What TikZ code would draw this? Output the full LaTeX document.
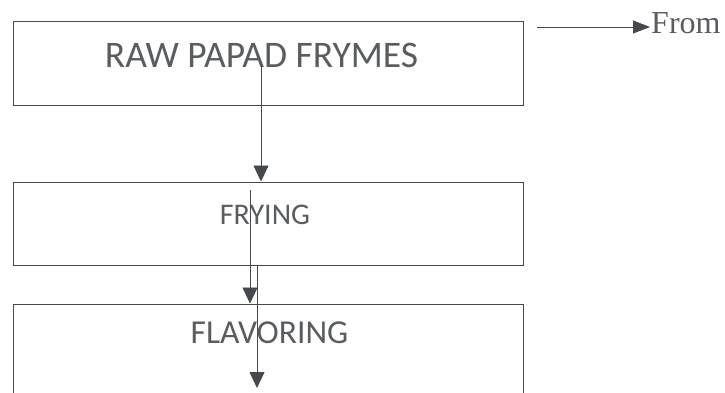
\documentclass[tikz,border=0pt]{standalone}
\usepackage{fontspec}
\setmainfont{Liberation Serif}
\newfontfamily\boxfont{Carlito}
\usetikzlibrary{arrows.meta}
\definecolor{inkgray}{HTML}{45484D}
\definecolor{txtgray}{HTML}{5A5D60}
\tikzset{
  stage/.style={draw=inkgray, line width=1pt, minimum width=510pt, inner sep=0pt},
  flow/.style={draw=inkgray, line width=0.8pt, -{Triangle[length=16pt,width=15pt]}},
  stagetext/.style={anchor=base, text=txtgray, font=\boxfont}
}
\begin{document}
\begin{tikzpicture}[x=1pt,y=-1pt]
\clip (0,0) rectangle (725,392);
\fill[white] (0,0) rectangle (725,392);

\node[stage, minimum height=84pt] (raw) at (268,63) {};
\node[stage, minimum height=83pt] (fry) at (268,223.5) {};
\node[stage, minimum height=100pt] (flav) at (268,354) {};

\node[stagetext, font=\boxfont\fontsize{37.5}{44}\selectfont] (rawtxt) at (261.5,67) {RAW PAPAD FRYMES};
\node[stagetext, font=\boxfont\fontsize{30}{36}\selectfont] (frytxt) at (265,224) {FRYING};
\node[stagetext, font=\boxfont\fontsize{33.5}{40}\selectfont] (flavtxt) at (269.5,343) {FLAVORING};

\node[anchor=base west, inner sep=1pt, text=txtgray, font=\fontsize{32}{38}\selectfont] (from) at (650,33) {From};

\coordinate (a1) at (261,65);
\coordinate (a2) at (250,190);
\coordinate (a3) at (257,388);
\coordinate (f0) at (537,27);

\draw[flow] (a1) -- (a1 |- fry.north);
\draw[flow] (a2) -- (a2 |- flav.north);
\draw[flow] (a3 |- fry.south) -- (a3);
\draw[flow, -{Triangle[length=17pt,width=13pt]}] (f0) -- (f0 -| from.west);
\end{tikzpicture}
\end{document}
